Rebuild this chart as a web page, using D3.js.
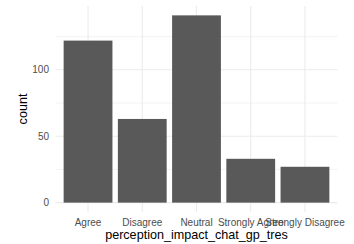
<!DOCTYPE html>
<html>
<head>
<meta charset="utf-8">
<script src="https://cdn.jsdelivr.net/npm/d3@7"></script>
<style>
  body { margin: 0; background: #fff; }
  text { font-family: "Liberation Sans", Arial, sans-serif; }
</style>
</head>
<body>
<div id="chart"></div>
<script>
// data
const categories = ["Agree", "Disagree", "Neutral", "Strongly Agree", "Strongly Disagree"];
const counts = [122, 63, 141, 33, 27];
const yTicks = [0, 50, 100];
const yMinor = [25, 75, 125];

var width = 354, height = 244;
var margin = { top: 6, right: 16.5, bottom: 32, left: 55.5 };
var pw = width - margin.left - margin.right,
    ph = height - margin.top - margin.bottom;

var svg = d3.select("#chart").append("svg")
  .attr("width", width).attr("height", height);
var g = svg.append("g")
  .attr("transform", "translate(" + margin.left + "," + margin.top + ")");

// discrete axis, 0.6 step padding on each side (like ggplot)
var step = pw / (categories.length - 1 + 1.2);
var x = d3.scalePoint().domain(categories)
  .range([0.6 * step, pw - 0.6 * step]);

var ymax = d3.max(counts);
var y = d3.scaleLinear()
  .domain([-0.05 * ymax, ymax * 1.05])
  .range([ph, 0]);

// grid
g.selectAll(".minor").data(yMinor).enter().append("line")
  .attr("x1", 0).attr("x2", pw)
  .attr("y1", d => y(d)).attr("y2", d => y(d))
  .attr("stroke", "#ebebeb").attr("stroke-width", 0.6);
g.selectAll(".major").data(yTicks).enter().append("line")
  .attr("x1", 0).attr("x2", pw)
  .attr("y1", d => y(d)).attr("y2", d => y(d))
  .attr("stroke", "#ebebeb").attr("stroke-width", 1.1);
g.selectAll(".vgrid").data(categories).enter().append("line")
  .attr("x1", d => x(d)).attr("x2", d => x(d))
  .attr("y1", 0).attr("y2", ph)
  .attr("stroke", "#ebebeb").attr("stroke-width", 1.1);

// bars
var bw = step * 0.9;
g.selectAll("rect").data(counts).enter().append("rect")
  .attr("x", (d, i) => x(categories[i]) - bw / 2)
  .attr("width", bw)
  .attr("y", d => y(d))
  .attr("height", d => y(0) - y(d))
  .attr("fill", "#595959");

// tick labels
g.selectAll(".ylab").data(yTicks).enter().append("text")
  .attr("x", -6.5).attr("y", d => y(d)).attr("dy", "0.35em")
  .attr("text-anchor", "end")
  .attr("font-size", 10).attr("fill", "#4d4d4d")
  .text(d => d);
g.selectAll(".xlab").data(categories).enter().append("text")
  .attr("x", d => x(d)).attr("y", ph + 14)
  .attr("text-anchor", "middle")
  .attr("font-size", 10).attr("fill", "#4d4d4d")
  .text(d => d);

// axis titles
svg.append("text")
  .attr("x", margin.left + pw / 2).attr("y", height - 5)
  .attr("text-anchor", "middle")
  .attr("font-size", 12.6).attr("fill", "#000")
  .text("perception_impact_chat_gp_tres");
svg.append("text")
  .attr("transform", "translate(" + 27 + "," + (margin.top + ph / 2) + ") rotate(-90)")
  .attr("text-anchor", "middle")
  .attr("font-size", 12.6).attr("fill", "#000")
  .text("count");
</script>
</body>
</html>
